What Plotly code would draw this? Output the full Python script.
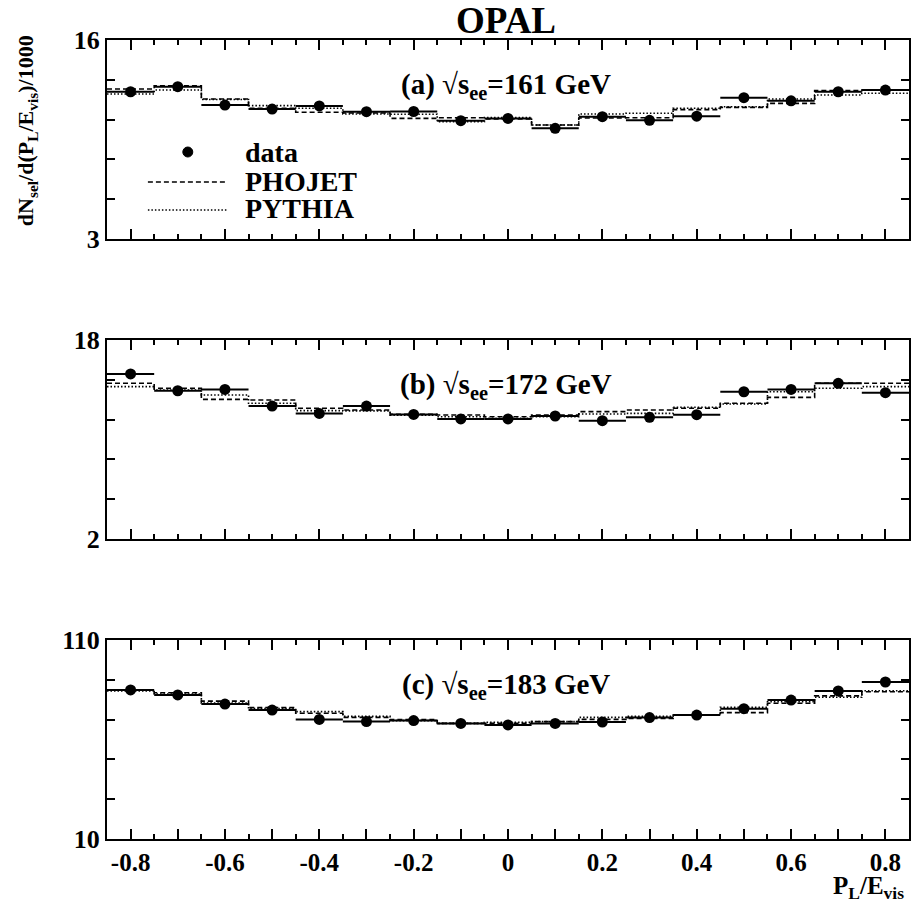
import numpy as np
import plotly.graph_objects as go
from plotly.subplots import make_subplots

# ---- data ----
bin_centers = [-0.8, -0.7, -0.6, -0.5, -0.4, -0.3, -0.2, -0.1, 0.0, 0.1, 0.2, 0.3, 0.4, 0.5, 0.6, 0.7, 0.8]
bin_halfwidth = 0.05

a_data = [12.62, 12.95, 11.75, 11.49, 11.69, 11.32, 11.33, 10.73, 10.88, 10.23, 10.99, 10.75, 11.02, 12.23, 12.03, 12.62, 12.73]
a_phojet = [12.80, 13.00, 12.15, 11.54, 11.28, 11.23, 10.88, 10.92, 10.84, 10.45, 10.90, 10.92, 11.45, 11.60, 11.86, 12.69, 12.73]
a_pythia = [12.47, 12.73, 12.11, 11.71, 11.54, 11.17, 11.15, 10.66, 10.94, 10.45, 11.17, 11.21, 11.54, 11.64, 12.15, 12.41, 12.52]

b_data = [15.27, 13.92, 14.03, 12.69, 12.10, 12.69, 12.02, 11.65, 11.65, 11.89, 11.51, 11.78, 12.00, 13.84, 14.03, 14.52, 13.76]
b_phojet = [14.52, 14.12, 13.23, 13.18, 12.51, 12.37, 12.02, 11.97, 11.83, 11.97, 12.24, 12.37, 12.51, 12.91, 13.39, 14.52, 14.52]
b_pythia = [14.25, 13.98, 13.58, 12.91, 12.32, 12.30, 11.95, 11.83, 11.70, 11.83, 12.05, 12.10, 12.59, 12.85, 13.84, 14.12, 14.25]

c_data = [84.9, 82.4, 77.8, 74.8, 70.1, 69.0, 69.5, 68.1, 67.3, 68.1, 68.8, 71.0, 72.3, 75.5, 79.8, 84.4, 88.9]
c_phojet = [84.9, 83.5, 79.3, 76.0, 73.2, 71.1, 70.0, 68.1, 68.1, 69.0, 70.1, 70.6, 72.3, 73.5, 78.2, 81.9, 84.0]
c_pythia = [84.4, 82.9, 78.3, 75.5, 74.0, 71.6, 69.5, 68.1, 68.6, 69.0, 71.1, 71.6, 72.3, 76.2, 79.0, 81.2, 84.5]

panel_labels = ["(a) √s<sub>ee</sub>=161 GeV", "(b) √s<sub>ee</sub>=172 GeV", "(c) √s<sub>ee</sub>=183 GeV"]
y_ranges = [(3, 16), (2, 18), (10, 110)]

x_tickvals = [-0.8, -0.7, -0.6, -0.5, -0.4, -0.3, -0.2, -0.1, 0.0, 0.1, 0.2, 0.3, 0.4, 0.5, 0.6, 0.7, 0.8]
x_ticktext = ["-0.8", "", "-0.6", "", "-0.4", "", "-0.2", "", "0", "", "0.2", "", "0.4", "", "0.6", "", "0.8"]
x_range = (-0.85, 0.85)

legend_labels = ["data", "PHOJET", "PYTHIA"]

# ---- layout constants ----
W, H = 912, 907
ML, MR, MT, MB = 107, 1, 40, 68
FONT = "Liberation Serif"

def pxx(x):
    return (x - ML) / (W - ML - MR)

def pxy(y):
    return (H - MB - y) / (H - MT - MB)

fig = make_subplots(rows=3, cols=1, vertical_spacing=101 / 799)

panels = [(a_data, a_phojet, a_pythia), (b_data, b_phojet, b_pythia), (c_data, c_phojet, c_pythia)]
centers = np.array(bin_centers)
edges = np.append(centers - bin_halfwidth, centers[-1] + bin_halfwidth)

for i, (dat, pho, pyt) in enumerate(panels):
    r = i + 1
    fig.add_trace(go.Scatter(x=edges, y=list(pho) + [pho[-1]], mode="lines", line_shape="hv",
                             line=dict(color="black", width=1.6, dash="5px,3px"),
                             name="PHOJET", showlegend=False), row=r, col=1)
    fig.add_trace(go.Scatter(x=edges, y=list(pyt) + [pyt[-1]], mode="lines", line_shape="hv",
                             line=dict(color="black", width=1.6, dash="1.5px,2px"),
                             name="PYTHIA", showlegend=False), row=r, col=1)
    fig.add_trace(go.Scatter(x=bin_centers, y=dat, mode="markers",
                             marker=dict(color="black", size=11, symbol="circle"),
                             error_x=dict(type="constant", value=bin_halfwidth, width=0, thickness=2, color="black"),
                             name="data", showlegend=False), row=r, col=1)

    lo, hi = y_ranges[i]
    yt = list(np.linspace(lo, hi, 6))
    ytxt = [str(lo), "", "", "", "", str(hi)]
    fig.update_yaxes(range=[lo, hi], tickmode="array", tickvals=yt, ticktext=ytxt,
                     ticks="inside", ticklen=8, tickwidth=1.5, tickcolor="black",
                     showline=True, linecolor="black", linewidth=2, mirror="allticks",
                     showgrid=False, zeroline=False,
                     tickfont=dict(family=FONT, size=26, color="black", weight="bold"),
                     row=r, col=1)
    fig.update_xaxes(range=list(x_range), tickmode="array", tickvals=x_tickvals, ticktext=x_ticktext,
                     ticks="inside", ticklen=10, tickwidth=1.5, tickcolor="black",
                     minor=dict(dtick=0.05, tick0=-0.85, ticklen=5, tickwidth=1.5, tickcolor="black", ticks="inside"),
                     showline=True, linecolor="black", linewidth=2, mirror="allticks",
                     showgrid=False, zeroline=False, showticklabels=(r == 3),
                     tickfont=dict(family=FONT, size=25, color="black", weight="bold"),
                     row=r, col=1)

annotations = []
panel_tops = [40, 340, 640]
for i, lab in enumerate(panel_labels):
    annotations.append(dict(xref="paper", yref="paper", x=pxx(507), y=pxy(panel_tops[i] + 46),
                            xanchor="center", yanchor="middle", showarrow=False, text="<b>" + lab + "</b>",
                            font=dict(family=FONT, size=29, color="black")))

annotations.append(dict(xref="paper", yref="paper", x=pxx(507), y=pxy(21), xanchor="center", yanchor="middle",
                        showarrow=False, text="<b>OPAL</b>", font=dict(family=FONT, size=37, color="black")))
annotations.append(dict(xref="paper", yref="paper", x=pxx(27), y=pxy(131), xanchor="center", yanchor="middle",
                        textangle=-90, showarrow=False,
                        text="<b>dN<sub>sel</sub>/d(P<sub>L</sub>/E<sub>vis</sub>)/1000</b>",
                        font=dict(family=FONT, size=22, color="black")))
annotations.append(dict(xref="paper", yref="paper", x=pxx(908), y=pxy(888), xanchor="right", yanchor="middle",
                        showarrow=False, text="<b>P<sub>L</sub>/E<sub>vis</sub></b>",
                        font=dict(family=FONT, size=25, color="black")))

# legend (drawn manually)
leg_y = [152, 181, 208]
for lab, yy in zip(legend_labels, leg_y):
    annotations.append(dict(xref="paper", yref="paper", x=pxx(243), y=pxy(yy), xanchor="left", yanchor="middle",
                            showarrow=False, text="<b>" + lab + "</b>",
                            font=dict(family=FONT, size=28, color="black")))
shapes = [
    dict(type="circle", xref="paper", yref="paper", x0=pxx(183), x1=pxx(193), y0=pxy(157), y1=pxy(147),
         fillcolor="black", line=dict(color="black", width=1)),
    dict(type="line", xref="paper", yref="paper", x0=pxx(148), x1=pxx(228), y0=pxy(182), y1=pxy(182),
         line=dict(color="black", width=1.6, dash="5px,3px")),
    dict(type="line", xref="paper", yref="paper", x0=pxx(148), x1=pxx(228), y0=pxy(210), y1=pxy(210),
         line=dict(color="black", width=1.6, dash="1.5px,2px")),
]

fig.update_layout(width=W, height=H, autosize=False,
                  margin=dict(l=ML, r=MR, t=MT, b=MB, pad=0),
                  paper_bgcolor="white", plot_bgcolor="white",
                  showlegend=False, annotations=annotations, shapes=shapes,
                  font=dict(family=FONT, color="black"))

fig.write_html("out.html", config={"displayModeBar": False},
               post_script="document.body.style.margin='0';document.body.style.padding='0';"
                           "document.body.style.overflow='hidden';")
